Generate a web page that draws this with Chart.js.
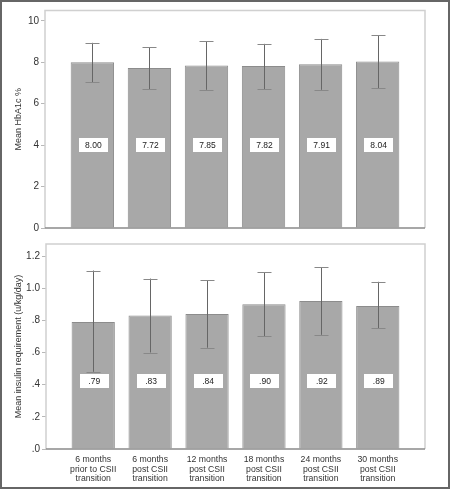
<!DOCTYPE html>
<html><head><meta charset="utf-8">
<script src="https://cdn.jsdelivr.net/npm/chart.js@4.4.0/dist/chart.umd.min.js"></script>
<style>
html,body{margin:0;padding:0;background:#fff;}
#wrap{position:relative;width:450px;height:489px;overflow:hidden;background:#fff;}
.cv{position:absolute;left:0;}
#border{position:absolute;left:0;top:0;width:450px;height:489px;box-sizing:border-box;border:2px solid #666;pointer-events:none;}
</style></head><body>
<div id="wrap">
<div class="cv" style="top:0"><canvas id="c1" width="450" height="236"></canvas></div>
<div class="cv" style="top:236px"><canvas id="c2" width="450" height="253"></canvas></div>
<div id="border"></div>
</div>
<script>
const categories = [
  ['6 months','prior to CSII','transition'],
  ['6 months','post CSII','transition'],
  ['12 months','post CSII','transition'],
  ['18 months','post CSII','transition'],
  ['24 months','post CSII','transition'],
  ['30 months','post CSII','transition']
];
const xPos = [1,2,3,4,5,6];

const hbMean = [8.00, 7.72, 7.85, 7.82, 7.91, 8.04];
const hbLow  = [7.03, 6.71, 6.67, 6.71, 6.67, 6.74];
const hbHigh = [8.94, 8.73, 9.02, 8.89, 9.13, 9.30];
const hbTicks = [0, 2, 4, 6, 8, 10];
const hbTickLabels = ['0','2','4','6','8','10'];

const insMean = [0.79, 0.83, 0.84, 0.90, 0.92, 0.89];
const insLow  = [0.48, 0.60, 0.63, 0.70, 0.71, 0.75];
const insHigh = [1.11, 1.06, 1.05, 1.10, 1.13, 1.04];
const insTicks = [0, 0.2, 0.4, 0.6, 0.8, 1.0, 1.2];
const insTickLabels = ['.0','.2','.4','.6','.8','1.0','1.2'];

const F = "'Liberation Sans', Arial, Helvetica, sans-serif";

const framePlugin = {
  id: 'frame',
  afterDatasetsDraw(chart) {
    const {ctx, chartArea: a} = chart;
    ctx.save();
    ctx.lineWidth = 1.5;
    ctx.strokeStyle = '#d0d0d0';
    ctx.beginPath();
    ctx.moveTo(a.left, a.bottom);
    ctx.lineTo(a.left, a.top);
    ctx.lineTo(a.right, a.top);
    ctx.lineTo(a.right, a.bottom);
    ctx.stroke();
    ctx.strokeStyle = '#8a8a8a';
    ctx.beginPath();
    ctx.moveTo(a.left, a.bottom);
    ctx.lineTo(a.right, a.bottom);
    ctx.stroke();
    ctx.restore();
  }
};

const errPlugin = {
  id: 'errbars',
  afterDatasetsDraw(chart, args, opts) {
    const {ctx} = chart;
    const ys = chart.scales.y;
    const meta = chart.getDatasetMeta(0);
    ctx.save();
    meta.data.forEach((el, i) => {
      const x = Math.round(el.x) + 0.5;
      const yH = ys.getPixelForValue(opts.high[i]);
      const yL = ys.getPixelForValue(opts.low[i]);
      ctx.lineWidth = 1;
      ctx.strokeStyle = '#666';
      ctx.beginPath(); ctx.moveTo(x, yH); ctx.lineTo(x, yL); ctx.stroke();
      ctx.strokeStyle = '#888';
      ctx.beginPath();
      ctx.moveTo(x - 7, Math.round(yH) + 0.5); ctx.lineTo(x + 7, Math.round(yH) + 0.5);
      ctx.moveTo(x - 7, Math.round(yL) + 0.5); ctx.lineTo(x + 7, Math.round(yL) + 0.5);
      ctx.stroke();
    });
    meta.data.forEach((el, i) => {
      const cy = ys.getPixelForValue(opts.labelAt);
      const w = 29, h = 14;
      ctx.fillStyle = '#ffffff';
      ctx.fillRect(Math.round(el.x - w / 2 + 1), Math.round(cy - h / 2), w, h);
      ctx.fillStyle = '#222';
      ctx.font = '8.5px ' + F;
      ctx.textAlign = 'center';
      ctx.textBaseline = 'middle';
      ctx.fillText(opts.fmt(opts.values[i]), el.x + 1, cy + 0.5);
    });
    ctx.restore();
  }
};

function makeChart(id, cfg) {
  return new Chart(document.getElementById(id), {
    type: 'bar',
    data: {
      datasets: [{
        data: xPos.map((x, i) => ({x: x, y: cfg.mean[i]})),
        backgroundColor: '#a8a8a8',
        borderColor: '#8c8c8c',
        borderWidth: 1,
        barPercentage: 0.76,
        categoryPercentage: 1
      }]
    },
    options: {
      responsive: false,
      animation: false,
      events: [],
      layout: {padding: cfg.padding},
      plugins: {
        legend: {display: false},
        tooltip: {enabled: false},
        errbars: {low: cfg.low, high: cfg.high, values: cfg.mean, labelAt: cfg.labelAt, fmt: cfg.fmt}
      },
      scales: {
        x: {
          type: 'linear',
          display: cfg.showX,
          min: 0.17, max: 6.83,
          offset: false,
          afterBuildTicks: s => { s.ticks = xPos.map(v => ({value: v})); },
          afterFit: s => { if (cfg.showX) s.height = 40; },
          grid: {display: false, drawTicks: false},
          border: {display: false},
          ticks: {
            autoSkip: false, maxRotation: 0, minRotation: 0,
            padding: 6,
            color: '#333',
            font: {family: F, size: 8.7, lineHeight: 1.1},
            callback: (v, i) => categories[i]
          }
        },
        y: {
          min: 0, max: cfg.max,
          afterBuildTicks: s => { s.ticks = cfg.ticks.map(v => ({value: v})); },
          afterFit: s => { s.width = cfg.yWidth; },
          grid: {drawOnChartArea: false, drawTicks: true, tickLength: 4, color: '#b8b8b8'},
          border: {display: false},
          ticks: {
            autoSkip: false,
            padding: 2,
            color: '#333',
            font: {family: F, size: 10},
            callback: (v, i) => cfg.tickLabels[i]
          },
          title: {
            display: true,
            text: cfg.title,
            color: '#333',
            font: {family: F, size: 9},
            padding: {top: 13, bottom: 0}
          }
        }
      }
    },
    plugins: [framePlugin, errPlugin]
  });
}

makeChart('c1', {
  mean: hbMean, low: hbLow, high: hbHigh,
  ticks: hbTicks, tickLabels: hbTickLabels,
  max: 10.5, yWidth: 45, showX: false,
  padding: {top: 10.5, right: 25, bottom: 4.5, left: 0},
  title: 'Mean HbA1c %',
  labelAt: 4,
  fmt: v => v.toFixed(2)
});

makeChart('c2', {
  mean: insMean, low: insLow, high: insHigh,
  ticks: insTicks, tickLabels: insTickLabels,
  max: 1.275, yWidth: 46, showX: true,
  padding: {top: 1.5, right: 25, bottom: 0, left: 0},
  title: 'Mean insulin requirement (u/kg/day)',
  labelAt: 0.42,
  fmt: v => v.toFixed(2).replace(/^0/, '')
});
</script>
</body></html>
